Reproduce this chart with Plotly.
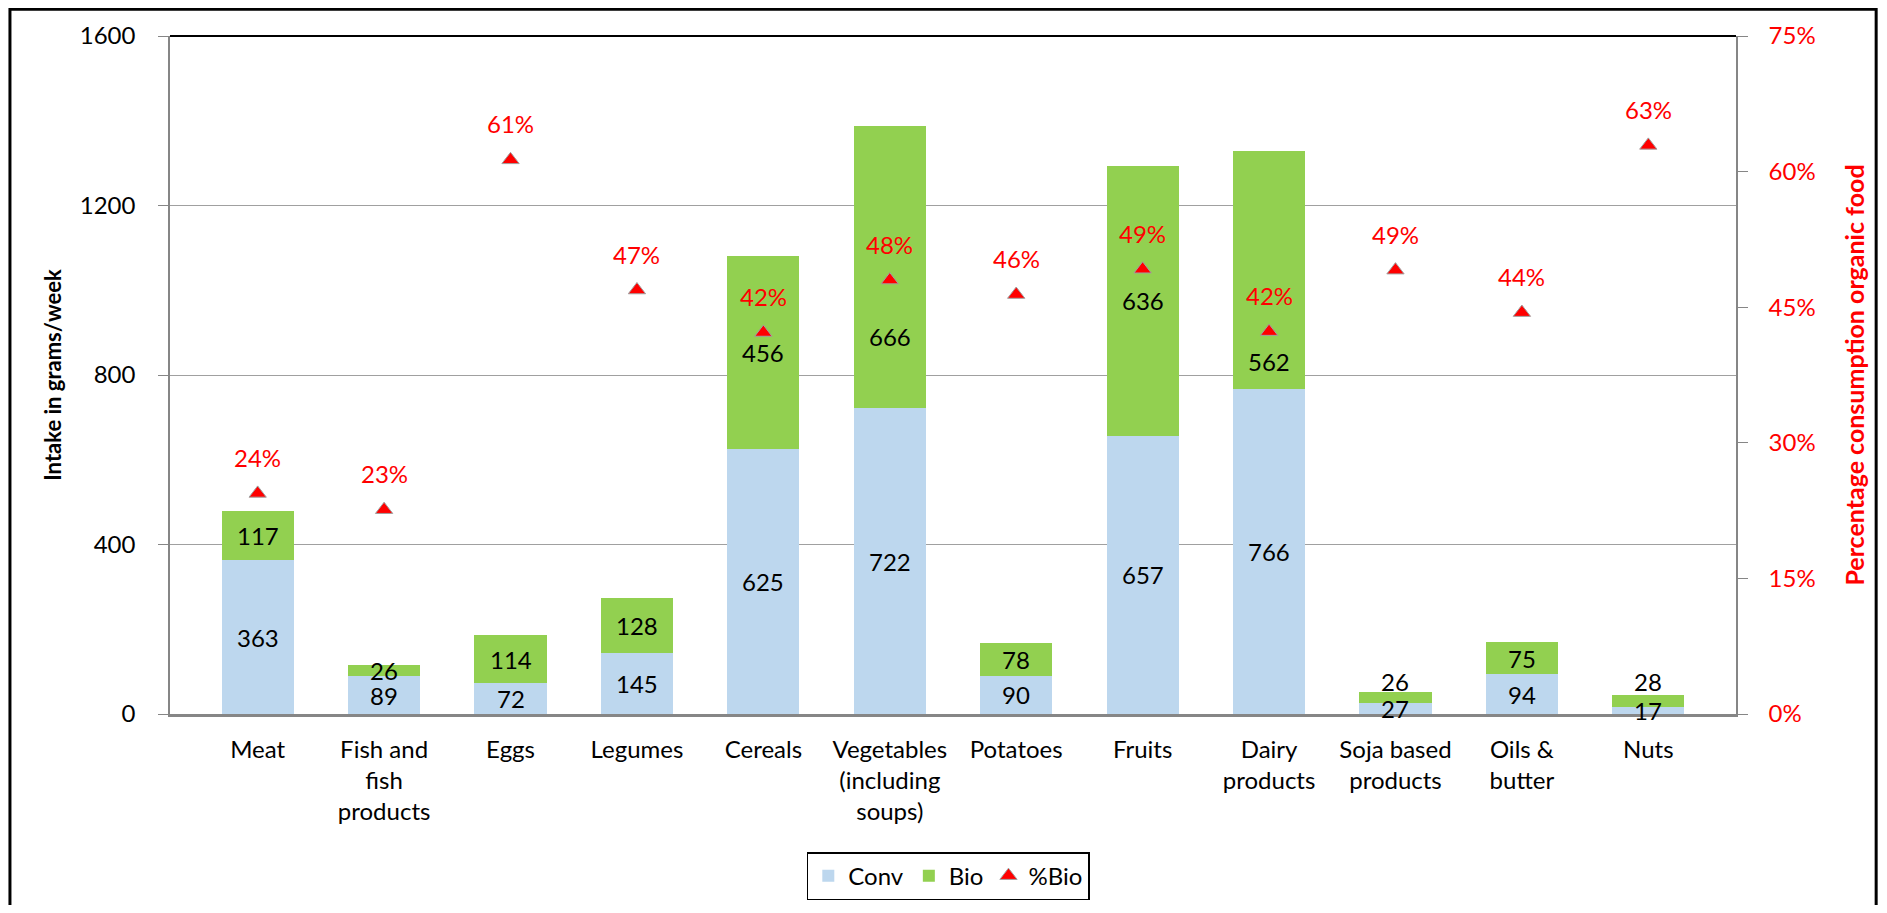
import plotly.graph_objects as go

# categories and values
categories = ["Meat", "Fish and<br>fish<br>products", "Eggs", "Legumes", "Cereals",
              "Vegetables<br>(including<br>soups)", "Potatoes", "Fruits", "Dairy<br>products",
              "Soja based<br>products", "Oils &<br>butter", "Nuts"]
conv = [363, 89, 72, 145, 625, 722, 90, 657, 766, 27, 94, 17]
bio = [117, 26, 114, 128, 456, 666, 78, 636, 562, 26, 75, 28]
pct_bio = [24.4, 22.6, 61.3, 46.9, 42.2, 48.0, 46.4, 49.2, 42.3, 49.1, 44.4, 62.9]
pct_labels = ["24%", "23%", "61%", "47%", "42%", "48%", "46%", "49%", "42%", "49%", "44%", "63%"]

# label nudges (px) like the hand-moved labels in the original
bio_label_shift = [0, 0, 0, 0, 0, -70, 0, 0, -91, 16, 0, 19]

FONT = "Lato"
FS = 24
RED = "#FF0000"
GRID = "#A0A0A0"
AXIS = "#868686"

fig = go.Figure()
fig.add_bar(x=categories, y=conv, name="Conv", marker=dict(color="#BDD7EE", line=dict(width=0)))
fig.add_bar(x=categories, y=bio, name="Bio", marker=dict(color="#92D050", line=dict(width=0)))
fig.add_scatter(x=categories, y=[p / 100 for p in pct_bio], name="%Bio", yaxis="y2", mode="markers",
                marker=dict(symbol="triangle-up", size=15, color=RED,
                            line=dict(color="#A0A0A0", width=1)))

# value labels on the bar segments
for c, v, b, s in zip(categories, conv, bio, bio_label_shift):
    fig.add_annotation(x=c, y=v / 2, text=str(v), showarrow=False,
                       font=dict(color="black", size=FS, family=FONT))
    fig.add_annotation(x=c, y=v + b / 2, text=str(b), showarrow=False, yshift=s,
                       font=dict(color="black", size=FS, family=FONT))

# percentage labels above the markers
for c, p, t in zip(categories, pct_bio, pct_labels):
    fig.add_annotation(x=c, y=p / 100, yref="y2", text=t, showarrow=False, yshift=36,
                       font=dict(color=RED, size=FS, family=FONT))

# black line along the top of the plot area and outer frame
fig.add_shape(type="line", xref="paper", yref="paper", x0=0, x1=1, y0=1, y1=1,
              line=dict(color="black", width=2))
fig.add_shape(type="rect", xref="paper", yref="paper", x0=-0.1022, x1=1.0895, y0=-0.35, y1=1.0395,
              line=dict(color="black", width=3), layer="below")

# page body has an 8px margin on each side; keep the figure inside the window
fig.update_layout(
    width=1871, height=897,
    barmode="stack", bargap=0.43,
    plot_bgcolor="white", paper_bgcolor="white",
    font=dict(family=FONT, size=FS, color="black"),
    margin=dict(l=162, r=143, t=28, b=191, autoexpand=False),
    showlegend=True,
    legend=dict(orientation="h", x=0.497, xanchor="center", y=-0.239, yanchor="middle",
                bordercolor="black", borderwidth=1.5, bgcolor="white",
                font=dict(size=FS, family=FONT), traceorder="normal"),
    xaxis=dict(showline=True, linecolor=AXIS, linewidth=2.5, ticks="", showgrid=False,
               tickfont=dict(size=FS, color="black"), ticklabelstandoff=12),
    yaxis=dict(range=[0, 1600], dtick=400, showgrid=True, gridcolor=GRID, gridwidth=1,
               showline=True, linecolor=AXIS, linewidth=1.5, ticks="outside", ticklen=10,
               tickcolor=AXIS, tickfont=dict(size=FS, color="black"), ticklabelstandoff=18,
               zeroline=False,
               title=dict(text="<b>Intake in grams/week</b>", font=dict(size=22, color="black"),
                          standoff=12)),
    yaxis2=dict(range=[0, 0.75], dtick=0.15, tickformat=".0%", overlaying="y", side="right",
                showgrid=False, showline=True, linecolor=AXIS, linewidth=1.5, ticks="outside",
                ticklen=10, tickcolor=AXIS, tickfont=dict(size=FS, color=RED), ticklabelstandoff=16,
                zeroline=False,
                title=dict(text="<b>Percentage consumption organic food</b>",
                           font=dict(size=25, color=RED), standoff=32)),
)

fig.write_html("out.html")
